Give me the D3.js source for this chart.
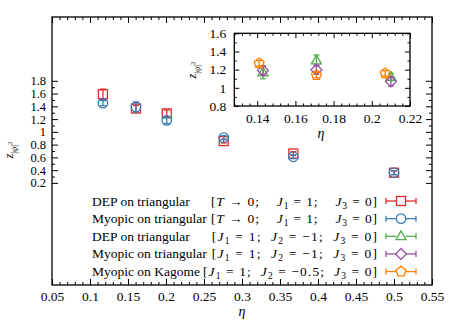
<!DOCTYPE html>
<html><head><meta charset="utf-8">
<script src="https://cdn.jsdelivr.net/npm/d3@7"></script>
<style>
html,body{margin:0;padding:0;background:#fff;}
svg{display:block;}
svg text{font-family:"Liberation Serif","DejaVu Serif",serif;}
</style></head><body>
<svg id="c" width="458" height="321"></svg>
<script>
// ---------- data ----------
const etaMain = [0.117, 0.1605, 0.201, 0.276, 0.3675, 0.5];
const depTri = [1.59, 1.365, 1.29, 0.855, 0.66, 0.36];
const depTriErr = [0.08, 0.05, 0.05, 0.03, 0.03, 0.03];
const myoTri = [1.45, 1.39, 1.18, 0.91, 0.61, 0.36];
const myoTriErr = [0.04, 0.08, 0.05, 0.03, 0.03, 0.03];

const etaDepJ2 = [0.143, 0.171, 0.21];
const depJ2 = [1.17, 1.30, 1.12];
const depJ2Err = [0.07, 0.06, 0.04];
const etaMyoJ2 = [0.143, 0.171, 0.21];
const myoJ2 = [1.19, 1.20, 1.07];
const myoJ2Err = [0.05, 0.05, 0.05];
const etaKag = [0.141, 0.171, 0.207];
const myoKag = [1.27, 1.14, 1.16];
const myoKagErr = [0.03, 0.03, 0.03];

const mainXTicks = [0.05,0.1,0.15,0.2,0.25,0.3,0.35,0.4,0.45,0.5,0.55];
const mainXTickLabels = ["0.05","0.1","0.15","0.2","0.25","0.3","0.35","0.4","0.45","0.5","0.55"];
const mainYTicks = [0.2,0.4,0.6,0.8,1.0,1.2,1.4,1.6,1.8];
const mainYTickLabels = ["0.2","0.4","0.6","0.8","1","1.2","1.4","1.6","1.8"];
const insetXTicks = [0.14,0.16,0.18,0.2,0.22];
const insetXTickLabels = ["0.14","0.16","0.18","0.2","0.22"];
const insetYTicks = [0.8,1.0,1.2,1.4,1.6];
const insetYTickLabels = ["0.8","1","1.2","1.4","1.6"];

const legendNames = ["DEP on triangular","Myopic on triangular","DEP on triangular","Myopic on triangular","Myopic on Kagome"];
// params: segments [text, style] style: n normal, i italic, s subscript
const legendParams = [
  [["[","n"],["T","i"],[" → 0;    ","n"],["J","i"],["1","s"],[" = 1;    ","n"],["J","i"],["3","s"],[" = 0]","n"]],
  [["[","n"],["T","i"],[" → 0;    ","n"],["J","i"],["1","s"],[" = 1;    ","n"],["J","i"],["3","s"],[" = 0]","n"]],
  [["[","n"],["J","i"],["1","s"],[" = 1;  ","n"],["J","i"],["2","s"],[" = −1;  ","n"],["J","i"],["3","s"],[" = 0]","n"]],
  [["[","n"],["J","i"],["1","s"],[" = 1;  ","n"],["J","i"],["2","s"],[" = −1;  ","n"],["J","i"],["3","s"],[" = 0]","n"]],
  [["[","n"],["J","i"],["1","s"],[" = 1;  ","n"],["J","i"],["2","s"],[" = −0.5;  ","n"],["J","i"],["3","s"],[" = 0]","n"]]
];
const colors = ["#e8292b","#377eb8","#4daf4a","#984ea3","#ff7f00"];
const shapes = ["square","circle","triangle","diamond","pentagon"];

// ---------- drawing ----------
const FF = '"Liberation Serif","DejaVu Serif",serif';
const svg = d3.select("#c");
const x = d3.scaleLinear([0.05,0.55],[52,432]);
const y = d3.scaleLinear([-1.4,2.8],[285,17]);
const xi = d3.scaleLinear([0.128,0.22],[234.3,410]);
const yi = d3.scaleLinear([0.8,1.6],[106,33.3]);

function range(a,b,s){const r=[];for(let v=a;v<=b+1e-9;v+=s)r.push(+v.toFixed(4));return r;}

function frame(g, xs, ys, opt){
  const [x0,x1]=xs.range(), [y0,y1]=ys.range();
  const minorX = range(opt.xMinor[0],opt.xMinor[1],opt.xMinor[2]).filter(v=>!opt.xMajor.some(m=>Math.abs(m-v)<1e-6));
  const minorY = range(opt.yMinor[0],opt.yMinor[1],opt.yMinor[2]).filter(v=>!opt.yMajor.some(m=>Math.abs(m-v)<1e-6));
  const mk = (axis, scale, vals, size, labels, pad) => {
    const a = axis(scale).tickValues(vals).tickSizeInner(-size).tickSizeOuter(0).tickPadding(pad);
    a.tickFormat(labels ? ((d,i)=>labels[i]) : ()=>"");
    return a;
  };
  const add = (axis, tr, fs) => {
    const gg = g.append("g").attr("transform",tr).call(axis);
    gg.attr("font-family",FF);
    gg.select(".domain").remove();
    gg.selectAll("line").attr("stroke","#000").attr("stroke-width",1);
    gg.selectAll("text").attr("fill","#000").attr("font-family",FF).style("font-size",(fs||12)+"px");
    return gg;
  };
  add(mk(d3.axisBottom,xs,opt.xMajor,opt.maj,opt.xLabels,opt.xPad),`translate(0,${y0})`,opt.fsx);
  add(mk(d3.axisBottom,xs,minorX,opt.min,null,0),`translate(0,${y0})`);
  add(mk(d3.axisTop,xs,opt.xMajor,opt.maj,null,0),`translate(0,${y1})`);
  add(mk(d3.axisTop,xs,minorX,opt.min,null,0),`translate(0,${y1})`);
  add(mk(d3.axisLeft,ys,opt.yMajor,opt.maj,opt.yLabels,opt.yPad),`translate(${x0},0)`,opt.fsy);
  add(mk(d3.axisLeft,ys,minorY,opt.min,null,0),`translate(${x0},0)`);
  add(mk(d3.axisRight,ys,opt.yMajor,opt.maj,null,0),`translate(${x1},0)`);
  add(mk(d3.axisRight,ys,minorY,opt.min,null,0),`translate(${x1},0)`);
  g.append("rect").attr("x",x0).attr("y",y1).attr("width",x1-x0).attr("height",y0-y1)
    .attr("fill","none").attr("stroke","#000").attr("stroke-width",1.3);
}

function marker(g, shape, cx, cy, color){
  const s = 4.5;
  let el;
  if(shape==="square") el = g.append("rect").attr("x",cx-s).attr("y",cy-s).attr("width",2*s).attr("height",2*s);
  else if(shape==="circle") el = g.append("circle").attr("cx",cx).attr("cy",cy).attr("r",s+0.3);
  else {
    let pts;
    if(shape==="triangle") pts=[[0,-5.4],[5,3.4],[-5,3.4]];
    else if(shape==="diamond") pts=[[0,-5.4],[5.4,0],[0,5.4],[-5.4,0]];
    else pts=d3.range(5).map(k=>{const a=-Math.PI/2+k*2*Math.PI/5;return [5.2*Math.cos(a),5.2*Math.sin(a)];});
    el = g.append("polygon").attr("points",pts.map(p=>(cx+p[0])+","+(cy+p[1])).join(" "));
  }
  el.attr("fill","none").attr("stroke",color).attr("stroke-width",1.3);
}

function series(g, xs, ys, xv, yv, ev, k){
  const c = colors[k], cap = 3;
  xv.forEach((xx,i)=>{
    const px = xs(xx), py = ys(yv[i]), lo = ys(yv[i]-ev[i]), hi = ys(yv[i]+ev[i]);
    g.append("line").attr("x1",px).attr("x2",px).attr("y1",lo).attr("y2",hi).attr("stroke",c).attr("stroke-width",1.3);
    g.append("line").attr("x1",px-cap).attr("x2",px+cap).attr("y1",lo).attr("y2",lo).attr("stroke",c).attr("stroke-width",1.3);
    g.append("line").attr("x1",px-cap).attr("x2",px+cap).attr("y1",hi).attr("y2",hi).attr("stroke",c).attr("stroke-width",1.3);
    marker(g, shapes[k], px, py, c);
  });
}

function zlabel(g, cx, cy, fs){
  const t = g.append("text").attr("transform",`translate(${cx},${cy}) rotate(-90)`)
    .attr("text-anchor","middle").attr("font-family",FF).style("font-size",fs+"px").attr("fill","#000");
  t.append("tspan").attr("font-style","italic").text("z");
  t.append("tspan").attr("dy",fs*0.3).style("font-size",(fs*0.72)+"px").text("|");
  t.append("tspan").attr("font-style","italic").style("font-size",(fs*0.72)+"px").text("ψ");
  t.append("tspan").style("font-size",(fs*0.72)+"px").text("|");
  t.append("tspan").attr("dy",-fs*0.35).style("font-size",(fs*0.55)+"px").text("2");
}

// main frame
const gm = svg.append("g");
frame(gm, x, y, {xMajor:mainXTicks, xLabels:mainXTickLabels, xMinor:[0.05,0.55,0.01],
  yMajor:mainYTicks, yLabels:mainYTickLabels, yMinor:[0.2,1.8,0.1], maj:6, min:3, fsx:13.5, fsy:12.5, xPad:6, yPad:6});
series(gm, x, y, etaMain, depTri, depTriErr, 0);
series(gm, x, y, etaMain, myoTri, myoTriErr, 1);
zlabel(gm, 13, 150, 12);
gm.append("text").attr("x",242).attr("y",316).attr("text-anchor","middle").attr("font-style","italic")
  .attr("font-family",FF).style("font-size","14px").text("η");

// inset
const gi = svg.append("g");
gi.append("rect").attr("x",234.3).attr("y",33.3).attr("width",175.7).attr("height",72.7).attr("fill","#fff");
frame(gi, xi, yi, {xMajor:insetXTicks, xLabels:insetXTickLabels, xMinor:[0.128,0.22,0.004],
  yMajor:insetYTicks, yLabels:insetYTickLabels, yMinor:[0.8,1.6,0.1], maj:5, min:2.5, fsx:13.5, fsy:13.5, xPad:7, yPad:8});
series(gi, xi, yi, etaDepJ2, depJ2, depJ2Err, 2);
series(gi, xi, yi, etaMyoJ2, myoJ2, myoJ2Err, 3);
series(gi, xi, yi, etaKag, myoKag, myoKagErr, 4);
zlabel(gi, 196, 70, 12);
gi.append("text").attr("x",321).attr("y",138).attr("text-anchor","middle").attr("font-style","italic")
  .attr("font-family",FF).style("font-size","14px").text("η");

// legend
const gl = svg.append("g");
const rowY = d3.scaleLinear([0,4],[201,271.6]);
const paramStart = [211, 211, 211.7, 211.7, 203];
legendNames.forEach((nm,k)=>{
  const yy = rowY(k);
  gl.append("text").attr("x",92).attr("y",yy+4.5).attr("font-family",FF).style("font-size","13.5px").text(nm);
  const t = gl.append("text").attr("x",paramStart[k]).attr("y",yy+4.5).attr("font-family",FF)
    .style("font-size","13.5px").style("white-space","pre")
    .attr("textLength",377-paramStart[k]).attr("lengthAdjust","spacing");
  legendParams[k].forEach(([s,st])=>{
    const sp = t.append("tspan").text(s);
    if(st==="i") sp.attr("font-style","italic");
    if(st==="s") sp.attr("baseline-shift","-25%").style("font-size","9.5px");
  });
  const c = colors[k];
  gl.append("line").attr("x1",386).attr("x2",416).attr("y1",yy).attr("y2",yy).attr("stroke",c).attr("stroke-width",1.3);
  gl.append("line").attr("x1",386).attr("x2",386).attr("y1",yy-3).attr("y2",yy+3).attr("stroke",c).attr("stroke-width",1.3);
  gl.append("line").attr("x1",416).attr("x2",416).attr("y1",yy-3).attr("y2",yy+3).attr("stroke",c).attr("stroke-width",1.3);
  gl.append("rect").attr("x",396).attr("y",yy-5.5).attr("width",10).attr("height",11).attr("fill","#fff");
  marker(gl, shapes[k], 401, yy, c);
});
</script>
</body></html>
